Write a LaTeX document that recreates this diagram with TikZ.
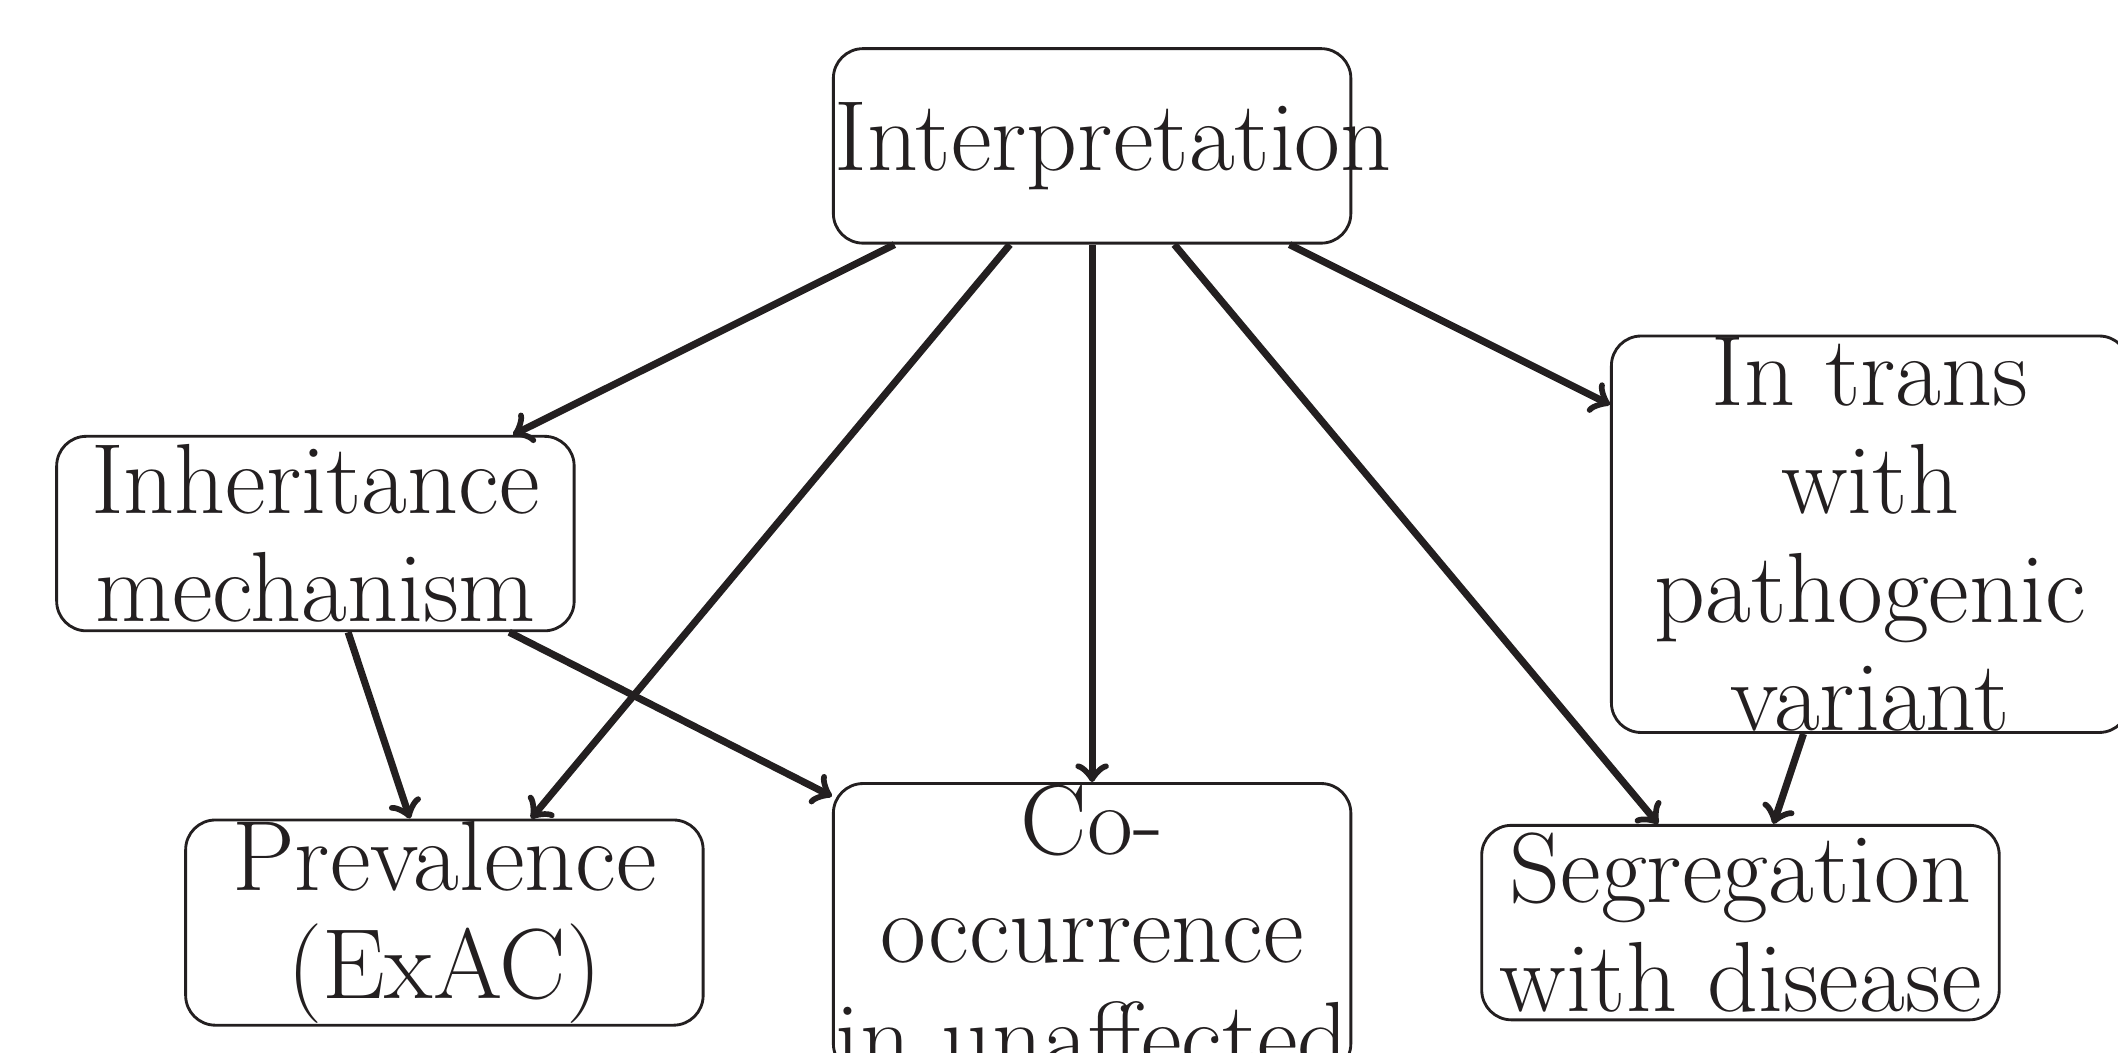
\documentclass[tikz,border=0pt]{standalone}
\usepackage{fontspec}
\definecolor{ink}{RGB}{35,31,32}

\begin{document}
\begin{tikzpicture}[
  box/.style={draw=ink,line width=0.6pt,rounded corners=0.22cm,text=ink,
    text width=3.81cm,align=flush center,inner sep=0.3pt,minimum height=1.44cm,
    font=\fontsize{21}{22.8}\selectfont},
  link/.style={->,draw=ink,line width=1.5pt}]
  \useasboundingbox (0,0) rectangle (15.68,-7.79);
  \node[box] (int) at (8.085,-1.08) {Interpretation};
  \node[box] (inh) at (2.335,-3.95) {Inheritance mechanism};
  \node[box] (prev) at (3.29,-6.83) {Prevalence (ExAC)};
  \node[box,anchor=north] (cooc) at (8.085,-5.79) {Co-occurrence in unaffected};
  \node[box] (trans) at (13.845,-3.955) {In trans with pathogenic variant};
  \node[box] (seg) at (12.885,-6.83) {Segregation with disease};
  \foreach \b in {inh,prev,cooc,seg,trans} \draw[link] (int) -- (\b);
  \draw[link] (inh) -- (prev);
  \draw[link] (inh) -- (cooc);
  \draw[link] (trans) -- (seg);
\end{tikzpicture}
\end{document}
